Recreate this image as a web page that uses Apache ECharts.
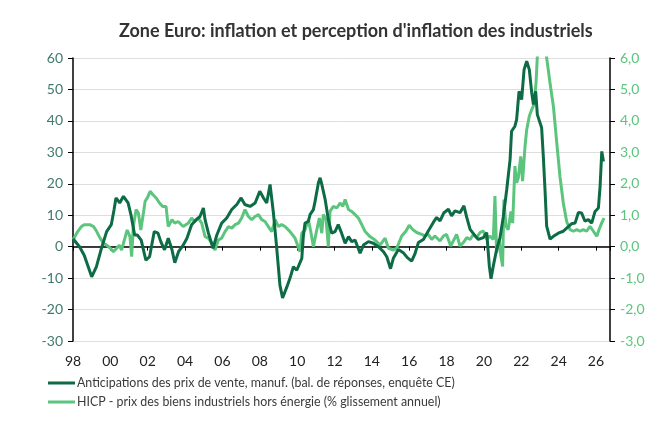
<!DOCTYPE html>
<html>
<head>
<meta charset="utf-8">
<script src="https://cdn.jsdelivr.net/npm/echarts@6/dist/echarts.min.js"></script>
<style>
  html, body { margin: 0; padding: 0; background: #fff; }
  #chart { width: 667px; height: 425px; }
</style>
</head>
<body>
<div id="chart"></div>
<script>
// Anticipations des prix de vente (solde, axe gauche)
const antDates = [1998.0, 1998.35, 1998.6, 1999.0, 1999.25, 1999.5, 1999.8, 2000.05, 2000.2, 2000.3, 2000.5, 2000.7, 2000.95, 2001.1, 2001.3, 2001.45, 2001.65, 2001.9, 2002.1, 2002.35, 2002.55, 2002.7, 2002.9, 2003.1, 2003.3, 2003.45, 2003.65, 2003.9,
  2004.1, 2004.35, 2004.6, 2004.8, 2004.98, 2005.07, 2005.25, 2005.5, 2005.7, 2005.96, 2006.23, 2006.5, 2006.77, 2007.0, 2007.2, 2007.48, 2007.75, 2008.0, 2008.2, 2008.37, 2008.55, 2008.73, 2008.9, 2009.08, 2009.22, 2009.45, 2009.62,
  2009.8, 2009.98, 2010.25, 2010.33, 2010.42, 2010.6, 2010.69, 2010.87, 2010.96, 2011.14, 2011.23, 2011.32, 2011.5, 2011.67, 2011.85, 2012.03, 2012.2, 2012.38, 2012.57, 2012.75, 2012.92, 2013.1, 2013.37, 2013.55, 2013.82, 2014.08, 2014.35, 2014.62, 2014.8, 2015.0, 2015.15, 2015.42,
  2015.68, 2015.9, 2016.13, 2016.3, 2016.49, 2016.76, 2017.02, 2017.29, 2017.47, 2017.65, 2017.86, 2018.1, 2018.27, 2018.45, 2018.72, 2018.93, 2019.08, 2019.26, 2019.47, 2019.7, 2019.97, 2020.15, 2020.29, 2020.38, 2020.5, 2020.68, 2020.86, 2021.04,
  2021.22, 2021.4, 2021.48, 2021.66, 2021.75, 2021.88, 2022.02, 2022.15, 2022.29, 2022.43, 2022.56, 2022.65, 2022.77, 2022.86, 2023.09, 2023.18, 2023.27, 2023.36, 2023.54, 2023.72, 2023.98, 2024.25, 2024.43, 2024.7, 2024.88, 2025.06, 2025.23,
  2025.41, 2025.59, 2025.77, 2025.95, 2026.13, 2026.22, 2026.31, 2026.4];
const antValues = [2.5, 0, -2.7, -9.6, -6.4, -1, 4.8, 7, 11.8, 15.5, 13.9, 16, 13.9, 10.2, 3.7, 3.7, 2.1, -4.3, -3.2, 4.8, 4.3, 1.6, -1, 2.7, -1, -5.1, -1.6, 0.5,
  2.7, 7, 8.6, 9.6, 12.3, 8.6, 4.3, -0.5, 3.7, 7.5, 9.1, 11.8, 13.4, 15.5, 13.4, 12.8, 13.9, 17.6, 15.5, 13.9, 19.8, 10.7, 0, -12.3, -16.3, -12.8, -10,
  -6.4, -7.5, -3.7, 3.2, 7.5, 8, 10.2, 11.8, 14.4, 20.3, 21.9, 19.8, 15, 8.6, 4.3, 4.8, 7, 4.3, 1.1, 3.2, 1.6, 2.1, -2.1, 0.5, 1.6, 1.1, 0, -1.6, -3.2, -7, -3.7, -0.9,
  -1.9, -3.5, -4.6, -2.4, 1.3, 2.3, 5, 7.7, 9.3, 8.2, 10.8, 11.9, 9.8, 11.4, 10.8, 13, 9.3, 5.5, 3.9, 2.3, 2.9, 4.5, -6.2, -10.2, -6.2, -0.9, 2.8, 9.6,
  18.1, 27.7, 36.7, 38.3, 40.4, 49.4, 46.8, 56.3, 59, 56.3, 48.9, 45.2, 49.4, 42, 37.8, 28.7, 18.1, 6.5, 2.4, 3.3, 4.3, 4.9, 5.9, 7.3, 7.5, 10.9, 10.7,
  8.1, 8.6, 7.5, 11.2, 12.3, 19.2, 30.3, 27.1];

// HICP biens industriels hors énergie (% a/a, axe droit)
const hicpDates = [1998.0, 1998.25, 1998.45, 1998.6, 1998.9, 1999.1, 1999.27, 1999.45, 1999.63, 1999.8, 2000.0, 2000.16, 2000.34, 2000.48, 2000.6, 2000.8, 2000.9, 2001.05, 2001.14, 2001.23, 2001.38, 2001.5, 2001.63, 2001.77, 2001.86, 2001.98, 2002.13, 2002.27, 2002.45, 2002.63, 2002.8, 2002.98, 2003.1, 2003.3, 2003.45, 2003.63, 2003.9,
  2004.18, 2004.35, 2004.53, 2004.71, 2004.89, 2005.07, 2005.25, 2005.43, 2005.6, 2005.78, 2005.96, 2006.14, 2006.32, 2006.5, 2006.68, 2006.86, 2007.03, 2007.21, 2007.39, 2007.57, 2007.75, 2007.93, 2008.1, 2008.28, 2008.46, 2008.64, 2008.82, 2009.0, 2009.17, 2009.35, 2009.62, 2009.89,
  2010.15, 2010.25, 2010.42, 2010.6, 2010.73, 2010.87, 2011.05, 2011.19, 2011.32, 2011.4, 2011.55, 2011.67, 2011.76, 2011.94, 2012.12, 2012.3, 2012.44, 2012.57, 2012.75, 2012.92, 2013.1, 2013.28, 2013.46, 2013.64, 2013.9, 2014.17, 2014.44, 2014.71, 2014.89, 2015.15, 2015.33,
  2015.6, 2015.83, 2016.0, 2016.18, 2016.4, 2016.67, 2016.85, 2017.02, 2017.2, 2017.38, 2017.65, 2017.83, 2018.0, 2018.22, 2018.36, 2018.54, 2018.72, 2018.9, 2019.08, 2019.26, 2019.44, 2019.61, 2019.79, 2019.97, 2020.15, 2020.32, 2020.5,
  2020.59, 2020.68, 2020.82, 2020.91, 2021.0, 2021.07, 2021.18, 2021.3, 2021.45, 2021.54, 2021.66, 2021.75, 2021.84, 2021.97, 2022.07, 2022.2, 2022.29, 2022.43, 2022.56, 2022.68, 2022.79, 2022.86, 2023.1, 2023.36, 2023.54, 2023.72, 2023.9,
  2024.07, 2024.25, 2024.43, 2024.61, 2024.79, 2024.97, 2025.15, 2025.32, 2025.5, 2025.68, 2025.86, 2026.04, 2026.16, 2026.3, 2026.43];
const hicpValues = [0.21, 0.48, 0.64, 0.7, 0.7, 0.64, 0.48, 0.27, 0.11, 0.05, -0.05, -0.16, -0.05, 0.05, -0.11, 0.32, 0.53, 0.32, -0.32, 0.64, 1.18, 1.07, 0.53, 1.07, 1.44, 1.55, 1.76, 1.66, 1.55, 1.39, 1.28, 1.28, 0.64, 0.86, 0.75, 0.8, 0.64,
  0.75, 0.91, 0.8, 0.91, 0.75, 0.32, 0.27, 0.11, -0.11, 0.21, 0.27, 0.48, 0.64, 0.59, 0.7, 0.75, 0.91, 1.18, 0.96, 0.86, 0.96, 1.02, 0.86, 0.8, 0.64, 0.48, 0.86, 0.64, 0.7, 0.64, 0.48, 0.27,
  -0.16, 0.43, 0.53, 0.86, 0.48, 0, 0.53, 0.91, 0.43, 1.02, 0.86, 0, 1.12, 1.28, 1.23, 1.39, 1.28, 1.5, 1.18, 1.12, 1.02, 0.91, 0.7, 0.48, 0.32, 0.21, 0.05, 0.27, -0.05, -0.11, -0.05,
  0.34, 0.5, 0.68, 0.55, 0.45, 0.39, 0.34, 0.39, 0.23, 0.34, 0.18, 0.34, 0.39, 0.02, 0.18, 0.39, 0.02, 0.13, 0.29, 0.23, 0.39, 0.29, 0.45, 0.5, 0.23, 0.34, 0.23,
  1.61, -0.19, 0.23, -0.3, -0.63, 1.5, 0.65, 0.54, 1.12, 0.75, 2.56, 2.03, 2.18, 2.87, 2.08, 3.19, 3.72, 4.15, 4.36, 4.52, 5.21, 6.05, 6.8, 6.0, 5.2, 4.46, 3.3,
  2.24, 1.39, 0.8, 0.54, 0.49, 0.54, 0.49, 0.54, 0.49, 0.65, 0.49, 0.33, 0.54, 0.75, 0.91];

const yearTicks = ['98', '00', '02', '04', '06', '08', '10', '12', '14', '16', '18', '20', '22', '24', '26'];

const darkGreen = '#0d6b45';
const lightGreen = '#5cc57d';

const chart = echarts.init(document.getElementById('chart'));
const option = {
  animation: false,
  textStyle: { fontFamily: 'Lato' },
  title: {
    text: "Zone Euro: inflation et perception d'inflation des industriels",
    left: 114,
    top: 17,
    textStyle: { fontFamily: 'Lato', fontSize: 18, fontWeight: 'bold', color: '#333' }
  },
  legend: {
    orient: 'vertical',
    left: 48,
    top: 377,
    padding: 0,
    itemWidth: 27,
    itemHeight: 3,
    itemGap: 7,
    icon: 'rect',
    textStyle: { fontFamily: 'Lato', fontSize: 12.4, color: '#3a3a3a', padding: [0, 0, 0, -3] },
    data: ['Anticipations des prix de vente, manuf. (bal. de réponses, enquête CE)',
      'HICP - prix des biens industriels hors énergie (% glissement annuel)']
  },
  grid: { left: 73, right: 57, top: 58, bottom: 84 },
  xAxis: [
    {
      type: 'value',
      min: 1998,
      max: 2026.75,
      interval: 2,
      position: 'bottom',
      axisLine: { show: false, onZero: false },
      axisTick: { show: false },
      splitLine: { show: false },
      axisLabel: {
        showMaxLabel: false,
        margin: 13,
        fontFamily: 'Lato',
        fontSize: 14,
        color: '#222',
        formatter: v => {
          const i = Math.round((v - 1998) / 2);
          return Math.abs(v - 1998 - i * 2) < 1e-6 ? yearTicks[i] : '';
        }
      }
    },
    {
      type: 'value',
      min: 1998,
      max: 2026.75,
      interval: 2,
      position: 'bottom',
      axisLine: { show: true, onZero: true, lineStyle: { color: '#000', width: 1.5 } },
      axisTick: { show: true, length: 4, lineStyle: { color: '#000' } },
      axisLabel: { show: false },
      splitLine: { show: false }
    }
  ],
  yAxis: [
    {
      type: 'value',
      min: -30,
      max: 60,
      interval: 10,
      position: 'left',
      axisLine: { show: true, lineStyle: { color: '#000', width: 1.5 } },
      axisTick: { show: true, length: 5, lineStyle: { color: '#000' } },
      axisLabel: { fontFamily: 'Lato', fontSize: 14, color: '#3f7a6b', margin: 10 },
      splitLine: { lineStyle: { color: '#dedede', width: 1 } }
    },
    {
      type: 'value',
      min: -3,
      max: 6,
      interval: 1,
      position: 'right',
      axisLine: { show: true, lineStyle: { color: '#000', width: 1.5 } },
      axisTick: { show: true, length: 5, lineStyle: { color: '#000' } },
      axisLabel: {
        fontFamily: 'Lato', fontSize: 14, color: lightGreen, margin: 10,
        formatter: v => v.toFixed(1).replace('.', ',')
      },
      splitLine: { show: false }
    }
  ],
  series: [
    {
      name: 'HICP - prix des biens industriels hors énergie (% glissement annuel)',
      type: 'line',
      xAxisIndex: 0,
      yAxisIndex: 1,
      showSymbol: false,
      clip: true,
      lineStyle: { color: lightGreen, width: 3 },
      itemStyle: { color: lightGreen },
      data: hicpDates.map((d, i) => [d, hicpValues[i]]),
      z: 2
    },
    {
      name: 'Anticipations des prix de vente, manuf. (bal. de réponses, enquête CE)',
      type: 'line',
      xAxisIndex: 0,
      yAxisIndex: 0,
      showSymbol: false,
      clip: true,
      lineStyle: { color: darkGreen, width: 3 },
      itemStyle: { color: darkGreen },
      data: antDates.map((d, i) => [d, antValues[i]]),
      z: 3
    }
  ]
};
chart.setOption(option);
</script>
</body>
</html>
